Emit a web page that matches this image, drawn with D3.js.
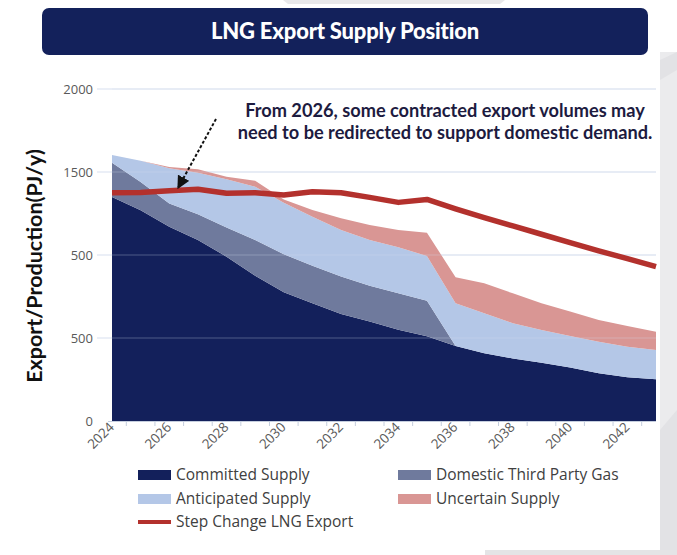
<!DOCTYPE html>
<html><head><meta charset="utf-8">
<script src="https://cdn.jsdelivr.net/npm/d3@7"></script>
<style>body{margin:0;background:#fff}svg{display:block}</style>
</head><body>
<script>
const years = [2024,2025,2026,2027,2028,2029,2030,2031,2032,2033,2034,2035,2036,2037,2038,2039,2040,2041,2042,2043];
const committed = [1350,1270,1170,1090,990,875,775,710,645,600,550,510,452,408,377,351,323,287,263,251];
const domestic = [205,170,140,155,175,215,230,225,225,215,220,215,0,0,0,0,0,0,0,0];
const anticipated = [47,128,212,251,291,321,310,296,281,275,276,269,257,241,212,197,189,191,185,177];
const uncertain = [0,0,8,20,16,37,20,40,70,91,105,140,157,181,180,161,147,130,124,110];
const stepChange = [1375,1377,1387,1396,1372,1375,1361,1381,1375,1347,1317,1335,1278,1225,1175,1125,1075,1025,978,930];
const yTicks = [0,500,1000,1500,2000];
const yTickLabels = ["0","500","500","1500","2000"];
const xLabelYears = [2024,2026,2028,2030,2032,2034,2036,2038,2040,2042];
const seriesNames = ["Committed Supply","Domestic Third Party Gas","Anticipated Supply","Uncertain Supply"];
const seriesColors = ["#13205b","#6f7a9d","#b4c7e7","#d99694"];
const lineName = "Step Change LNG Export";
const lineColor = "#b3312d";
const title = "LNG Export Supply Position";
const note = ["From 2026, some contracted export volumes may","need to be redirected to support domestic demand."];
const yTitle = "Export/Production(PJ/y)";

const W=677,H=555;
const svg=d3.select("body").append("svg").attr("width",W).attr("height",H);

// background decorations
svg.append("rect").attr("x",660).attr("y",52).attr("width",17).attr("height",503).attr("fill","#ebebed");
svg.append("path").attr("d","M660,430 L677,410 L677,555 L660,555Z").attr("fill","#e2e2e5");
svg.append("path").attr("d","M660,60 L677,52 L677,70 L660,80Z").attr("fill","#e2e2e5");
svg.append("rect").attr("x",485).attr("y",550).attr("width",192).attr("height",5).attr("fill","#e4e4e6");
svg.append("path").attr("d","M283,0 L505,0 L500,4 L288,4Z").attr("fill","#e8e8ea");

// title
svg.append("rect").attr("x",42).attr("y",8).attr("width",606).attr("height",47).attr("rx",7).attr("fill","#13215b");
svg.append("text").attr("x",345).attr("y",39).attr("text-anchor","middle")
  .attr("font-family","Lato, 'Open Sans', sans-serif").attr("font-weight","900").attr("font-size",22)
  .attr("fill","#fff").attr("letter-spacing","-0.2").text(title);

const x=d3.scaleLinear().domain([2024,2043]).range([112,656]);
const y=d3.scaleLinear().domain([0,2000]).range([421,89]);

// grid (behind)
svg.append("g").selectAll("line").data(yTicks.filter(d=>d>0)).join("line")
  .attr("x1",97).attr("x2",656).attr("y1",d=>y(d)).attr("y2",d=>y(d))
  .attr("stroke","#d7e0ef").attr("stroke-width",1.2);

// stacked areas
const rows=years.map((yr,i)=>({year:yr,c:committed[i],d:domestic[i],a:anticipated[i],u:uncertain[i]}));
const stack=d3.stack().keys(["c","d","a","u"]);
const layers=stack(rows);
const area=d3.area().x(d=>x(d.data.year)).y0(d=>y(d[0])).y1(d=>y(d[1]));
svg.append("g").selectAll("path").data(layers).join("path")
  .attr("d",area).attr("fill",(d,i)=>seriesColors[i]);

// faint grid over the areas
svg.append("g").selectAll("line").data(yTicks.filter(d=>d>0)).join("line")
  .attr("x1",112).attr("x2",656).attr("y1",d=>y(d)).attr("y2",d=>y(d))
  .attr("stroke","#d7e0ef").attr("stroke-width",1.2).attr("opacity",0.3);

// line
const line=d3.line().x((d,i)=>x(years[i])).y(d=>y(d));
svg.append("path").datum(stepChange).attr("d",line).attr("fill","none")
  .attr("stroke",lineColor).attr("stroke-width",5.5).attr("stroke-linejoin","round");

// x axis line and ticks
svg.append("line").attr("x1",108).attr("x2",656).attr("y1",421.5).attr("y2",421.5).attr("stroke","#c5cede").attr("stroke-width",1);
const tickYears=d3.range(2024.5,2043,1);
svg.append("g").selectAll("line").data(tickYears).join("line")
  .attr("x1",d=>x(d)).attr("x2",d=>x(d)).attr("y1",421).attr("y2",426).attr("stroke","#c5cede");

// y labels
svg.append("g").selectAll("text").data(yTicks).join("text")
  .attr("x",93).attr("y",d=>y(d)+4.5).attr("text-anchor","end")
  .attr("font-family","'Open Sans', sans-serif").attr("font-size",13).attr("fill","#595959")
  .text((d,i)=>yTickLabels[i]);

// x labels
svg.append("g").selectAll("text").data(xLabelYears).join("text")
  .attr("transform",d=>`translate(${x(d)+3},${428}) rotate(-45)`).attr("text-anchor","end")
  .attr("font-family","'Open Sans', sans-serif").attr("font-size",13.5).attr("fill","#595959")
  .text(d=>d);

// y title
svg.append("text").attr("transform","translate(42,266) rotate(-90)").attr("text-anchor","middle")
  .attr("font-family","Lato, 'Open Sans', sans-serif").attr("font-weight","bold").attr("font-size",21.5)
  .attr("fill","#111").text(yTitle);

// annotation
svg.append("g").selectAll("text").data(note).join("text")
  .attr("x",445).attr("y",(d,i)=>117+i*21.5).attr("text-anchor","middle")
  .attr("font-family","Lato, 'Open Sans', sans-serif").attr("font-weight","bold").attr("font-size",18.2)
  .attr("fill","#1d1b3f").text(d=>d);
svg.append("defs").append("marker").attr("id","ah").attr("viewBox","0 0 10 10").attr("refX",9).attr("refY",5)
  .attr("markerWidth",6.5).attr("markerHeight",6.5).attr("orient","auto")
  .append("path").attr("d","M0,0 L10,5 L0,10Z").attr("fill","#111");
svg.append("line").attr("x1",216).attr("y1",119).attr("x2",178).attr("y2",188)
  .attr("stroke","#111").attr("stroke-width",2).attr("stroke-dasharray","3,2").attr("marker-end","url(#ah)");

// legend
const leg=[
  {n:seriesNames[0],c:seriesColors[0],x:138,y:475,t:"rect"},
  {n:seriesNames[1],c:seriesColors[1],x:398,y:475,t:"rect"},
  {n:seriesNames[2],c:seriesColors[2],x:138,y:499,t:"rect"},
  {n:seriesNames[3],c:seriesColors[3],x:398,y:499,t:"rect"},
  {n:lineName,c:lineColor,x:138,y:522,t:"line"}];
const lg=svg.append("g").selectAll("g").data(leg).join("g");
lg.filter(d=>d.t==="rect").append("rect").attr("x",d=>d.x).attr("y",d=>d.y-5).attr("width",33).attr("height",10).attr("fill",d=>d.c);
lg.filter(d=>d.t==="line").append("line").attr("x1",d=>d.x).attr("x2",d=>d.x+33).attr("y1",d=>d.y).attr("y2",d=>d.y).attr("stroke",d=>d.c).attr("stroke-width",4);
lg.append("text").attr("x",d=>d.x+38).attr("y",d=>d.y+5)
  .attr("font-family","'Open Sans', sans-serif").attr("font-size",15.5).attr("fill","#404040").text(d=>d.n);
</script>
</body></html>
